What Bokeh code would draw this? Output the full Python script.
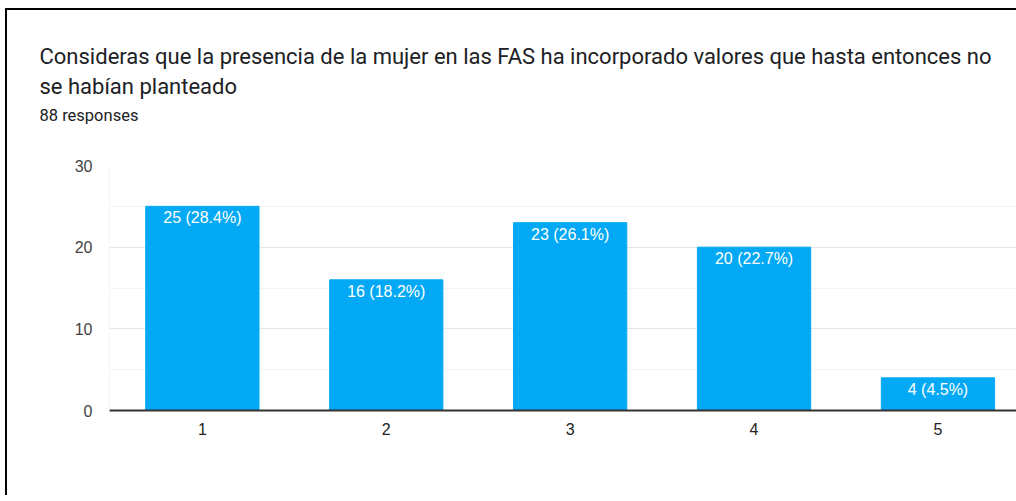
from bokeh.plotting import figure
from bokeh.models import FixedTicker, Span, Title, Range1d
from bokeh.core.properties import value
from bokeh.embed import file_html
from bokeh.resources import INLINE

title_line1 = "Consideras que la presencia de la mujer en las FAS ha incorporado valores que hasta entonces no"
title_line2 = "se habían planteado"
subtitle = "88 responses"

categories = ["1", "2", "3", "4", "5"]
counts = [25, 16, 23, 20, 4]
percents = ["28.4%", "18.2%", "26.1%", "22.7%", "4.5%"]
y_ticks = [0, 10, 20, 30]
y_minor = [5, 15, 25]

xs = [i + 1 for i in range(len(categories))]
labels = [f"{c} ({p})" for c, p in zip(counts, percents)]

p = figure(width=1009, height=485, output_backend="svg", toolbar_location=None,
           x_range=Range1d(0.495, 5.438), y_range=Range1d(0, 30),
           min_border_left=102, min_border_right=0, min_border_bottom=87, min_border_top=0)
p.styles = {"margin-left": "5px", "margin-top": "8px", "box-sizing": "content-box",
            "border-left": "2px solid #000", "border-top": "2px solid #000"}

# built-in title is the outermost panel: use it as top spacer
p.title.text = " "
p.title.text_font_size = "1px"
p.title.text_color = "white"
p.title.standoff = 28

t1 = Title(text=title_line1, text_font="Roboto", text_font_size="22px", text_font_style="normal",
           text_color="#202124", align="left", offset=-70, standoff=0)
t2 = Title(text=title_line2, text_font="Roboto", text_font_size="22px", text_font_style="normal",
           text_color="#202124", align="left", offset=-70, standoff=6)
t3 = Title(text=subtitle, text_font="Roboto", text_font_size="16.5px", text_font_style="normal",
           text_color="#202124", align="left", offset=-70, standoff=4)
gap = Title(text=" ", text_font_size="1px", standoff=36, text_color="white")
p.add_layout(gap, "above")
p.add_layout(t3, "above")
p.add_layout(t2, "above")
p.add_layout(t1, "above")

p.outline_line_color = None
p.background_fill_color = "white"
p.border_fill_color = "white"

p.vbar(x=xs, top=counts, width=0.616, color="#03a9f4")
p.text(x=xs, y=counts, text=labels, text_align="center", text_baseline="top", y_offset=3,
       text_color="white", text_font=value("Liberation Sans"), text_font_size="16px")

p.add_layout(Span(location=0.495, dimension="height", line_color="#ebebeb", line_width=1))

p.xaxis.ticker = FixedTicker(ticks=xs)
p.xaxis.major_label_overrides = {x: c for x, c in zip(xs, categories)}
p.xaxis.major_tick_line_color = None
p.xaxis.minor_tick_line_color = None
p.xaxis.axis_line_color = "#333333"
p.xaxis.axis_line_width = 2
p.xaxis.major_label_text_font = "Liberation Sans"
p.xaxis.major_label_text_font_size = "16px"
p.xaxis.major_label_text_color = "#222222"
p.xaxis.major_label_standoff = 6

p.yaxis.ticker = FixedTicker(ticks=y_ticks, minor_ticks=y_minor)
p.yaxis.major_tick_line_color = None
p.yaxis.minor_tick_line_color = None
p.yaxis.axis_line_color = None
p.yaxis.major_label_text_font = "Liberation Sans"
p.yaxis.major_label_text_font_size = "16px"
p.yaxis.major_label_text_color = "#444444"
p.yaxis.major_label_standoff = 11

p.xgrid.grid_line_color = None
p.ygrid.grid_line_color = "#e6e6e6"
p.ygrid.minor_grid_line_color = "#f3f3f3"

open("out.html", "w").write(file_html(p, INLINE))
